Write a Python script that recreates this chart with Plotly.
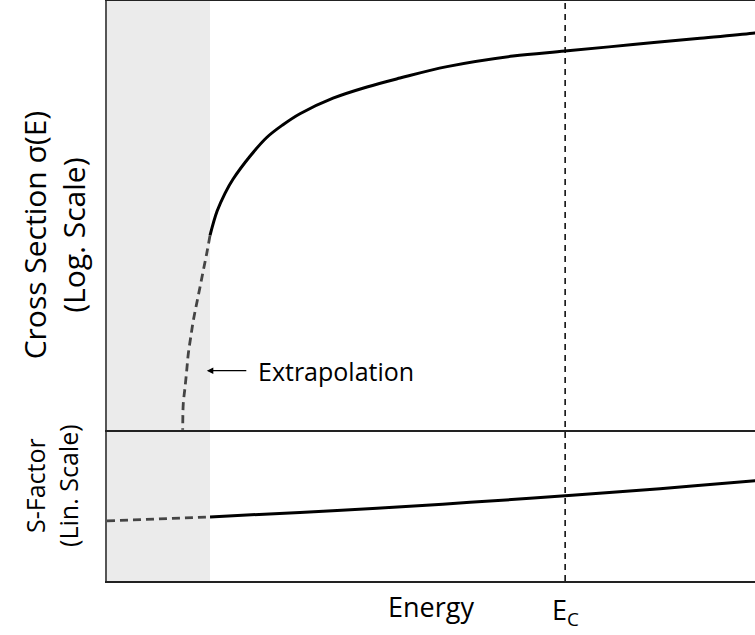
import plotly.graph_objects as go

# Energy axis (arbitrary units)
E_MAX = 10.0
E_MEASURED_MIN = 1.59   # lowest energy reached by measurements
E_C = 7.07              # Coulomb barrier energy

# Cross section: measured part (solid) and extrapolation (dashed)
sigma_meas_E = [1.590, 1.698, 1.821, 1.944, 2.207, 2.469, 2.716, 2.978, 3.488, 4.012, 4.522,
                5.247, 6.265, 7.068, 8.117, 9.151, 10.0, 10.2]
sigma_meas = [0.004571, 0.007943, 0.01202, 0.01660, 0.02818, 0.04365, 0.05821, 0.07499,
              0.1072, 0.1387, 0.1702, 0.2213, 0.2818, 0.3162, 0.3673, 0.4246, 0.4786, 0.5012]
sigma_extrap_E = [1.590, 1.539, 1.486, 1.435, 1.384, 1.332, 1.292, 1.255, 1.230, 1.204, 1.177,
                  1.168, 1.165]
sigma_extrap = [0.004571, 0.00302, 0.00204, 0.00139, 0.000955, 0.000646, 0.000440, 0.000302,
                0.000204, 0.000139, 0.0000955, 0.0000537, 0.0000407]

# Astrophysical S-factor: measured part and extrapolation
s_meas_E = [1.590, 2.978, 4.167, 5.602, 7.068, 8.534, 10.0, 10.2]
s_meas = [0.64, 0.685, 0.727, 0.785, 0.85, 0.922, 1.00, 1.01]
s_extrap_E = [0.0, 1.590]
s_extrap = [0.60, 0.64]

FONT = "Open Sans"
SOLID = dict(color="black", width=3)
DASHED = dict(color="#444444", width=2.8, dash="8px,5px")

fig = go.Figure()

# top panel: cross section on log scale
fig.add_trace(go.Scatter(x=sigma_extrap_E, y=sigma_extrap, mode="lines",
                         line=dict(DASHED, shape="spline", smoothing=1.0),
                         xaxis="x2", yaxis="y2", hoverinfo="skip"))
fig.add_trace(go.Scatter(x=sigma_meas_E, y=sigma_meas, mode="lines",
                         line=dict(SOLID, shape="spline", smoothing=1.0),
                         xaxis="x2", yaxis="y2", hoverinfo="skip"))

# bottom panel: S-factor on linear scale
fig.add_trace(go.Scatter(x=s_extrap_E, y=s_extrap, mode="lines", line=DASHED,
                         xaxis="x", yaxis="y", hoverinfo="skip"))
fig.add_trace(go.Scatter(x=s_meas_E, y=s_meas, mode="lines",
                         line=dict(SOLID, shape="spline", smoothing=1.0),
                         xaxis="x", yaxis="y", hoverinfo="skip"))

split = 151 / 579
axis_common = dict(showgrid=False, zeroline=False, showticklabels=False, ticks="")

fig.update_layout(
    width=755, height=635,
    margin=dict(l=107, r=0, t=1, b=54),
    paper_bgcolor="white", plot_bgcolor="rgba(0,0,0,0)",
    showlegend=False,
    font=dict(family=FONT, color="black", size=27),
    xaxis=dict(**axis_common, anchor="y", domain=[0, 1], range=[0, E_MAX],
               showline=True, mirror=False, linecolor="#222222", linewidth=2,
               title=dict(text="Energy", font=dict(size=27), standoff=16)),
    yaxis=dict(**axis_common, anchor="x", domain=[0, split], range=[0, 1.51],
               showline=True, linecolor="#555555", linewidth=2),
    xaxis2=dict(**axis_common, anchor="y2", matches="x",
                showline=True, mirror=True, linecolor="#222222", linewidth=2),
    yaxis2=dict(**axis_common, anchor="x2", domain=[split, 1], type="log", range=[-4.28, 0],
                showline=True, linecolor="#555555", linewidth=2),
)

# unmeasured low-energy region and the Coulomb barrier marker
fig.add_shape(type="rect", xref="x", yref="paper", x0=0, x1=E_MEASURED_MIN, y0=0, y1=1,
              fillcolor="#ebebeb", line_width=0, layer="below")
fig.add_shape(type="line", xref="x", yref="paper", x0=E_C, x1=E_C, y0=0, y1=1,
              line=dict(color="black", width=1.5, dash="6px,5px"))

# extrapolation arrow and label
fig.add_annotation(x=1.54, y=-3.69, xref="x2", yref="y2", text="", showarrow=True,
                   ax=41, ay=0, arrowhead=2, arrowsize=1, arrowwidth=1.3,
                   arrowcolor="black", standoff=0)
fig.add_annotation(x=1.54, y=-3.69, xref="x2", yref="y2", text="Extrapolation",
                   showarrow=False, xanchor="left", yanchor="middle", xshift=49,
                   font=dict(size=25))

# Coulomb barrier label
fig.add_annotation(x=E_C, y=0, xref="x", yref="paper", text="E<sub>C</sub>",
                   showarrow=False, yanchor="top", yshift=-8, font=dict(size=27))

# panel labels
fig.add_annotation(x=0, y=0.596, xref="paper", yref="paper",
                   text="Cross Section σ(E)<br>(Log. Scale)", textangle=-90,
                   showarrow=False, xanchor="center", yanchor="middle", xshift=-53,
                   font=dict(size=30))
fig.add_annotation(x=0, y=0.164, xref="paper", yref="paper",
                   text="S-Factor<br>(Lin. Scale)", textangle=-90,
                   showarrow=False, xanchor="center", yanchor="middle", xshift=-55,
                   font=dict(size=25))

fig.write_html("out.html")
